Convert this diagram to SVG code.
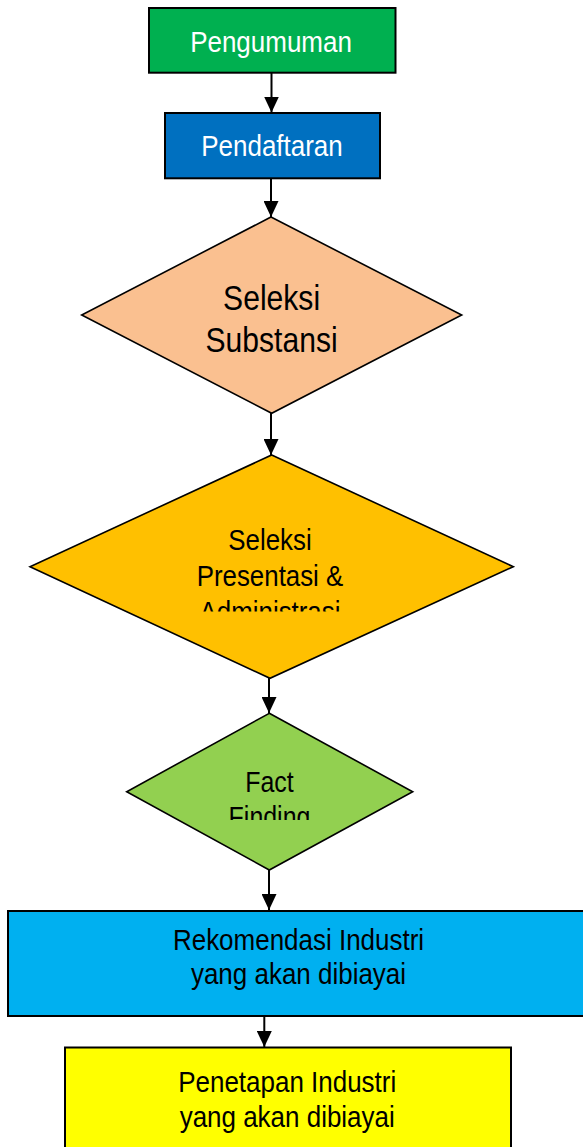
<svg xmlns="http://www.w3.org/2000/svg" width="583" height="1147" viewBox="0 0 583 1147">
<style>
.box{stroke:#000;stroke-width:2}
.dia{stroke:#000;stroke-width:1.6}
.t{font-family:"Liberation Sans",Arial,sans-serif;font-size:30px;text-anchor:middle;fill:#000}
.w{fill:#fff}
.conn{stroke:#000;stroke-width:2;fill:none;marker-end:url(#ah)}
</style>
<defs>
<marker id="ah" markerUnits="userSpaceOnUse" markerWidth="16" markerHeight="15" refX="16" refY="7.5" orient="auto">
<path d="M0,0 L16,7.5 L0,15 z" fill="#000"/>
</marker>
<clipPath id="c2"><rect x="0" y="500" width="583" height="111.5"/></clipPath>
<clipPath id="c3"><rect x="0" y="750" width="583" height="70"/></clipPath>
</defs>
<rect width="583" height="1147" fill="#fff"/>
<g id="connectors">
<line class="conn" x1="271.5" y1="73" x2="271.5" y2="112.5"/>
<line class="conn" x1="271" y1="178" x2="271" y2="217"/>
<line class="conn" x1="271" y1="413" x2="271" y2="455"/>
<line class="conn" x1="269" y1="677" x2="269" y2="713"/>
<line class="conn" x1="269" y1="870" x2="269" y2="910"/>
<line class="conn" x1="264.3" y1="1008" x2="264.3" y2="1047"/>
</g>
<g id="pengumuman">
<rect class="box" x="149" y="8" width="246.5" height="64.7" fill="#00B050"/>
<text class="t w" transform="translate(271 0) scale(0.866 1)" x="0" y="52">Pengumuman</text>
</g>
<g id="pendaftaran">
<rect class="box" x="165" y="113" width="215" height="65.3" fill="#0070C0"/>
<text class="t w" transform="translate(272 0) scale(0.866 1)" x="0" y="156">Pendaftaran</text>
</g>
<g id="seleksi-substansi">
<polygon class="dia" points="271,217 461.7,315 271.7,413.3 81.7,315" fill="#FAC090"/>
<text class="t" style="font-size:35px" transform="translate(271.6 0) scale(0.86 1)" x="0" y="310">Seleksi</text>
<text class="t" style="font-size:35px" transform="translate(271.6 0) scale(0.86 1)" x="0" y="351.7">Substansi</text>
</g>
<g id="seleksi-presentasi">
<polygon class="dia" points="271.7,455 513.3,566.7 270,678.3 30,566.7" fill="#FFC000"/>
<g clip-path="url(#c2)">
<text class="t" transform="translate(270 0) scale(0.862 1)" x="0" y="550">Seleksi</text>
<text class="t" transform="translate(270 0) scale(0.862 1)" x="0" y="586">Presentasi &amp;</text>
<text class="t" transform="translate(270 0) scale(0.862 1)" x="0" y="622">Administrasi</text>
</g>
</g>
<g id="fact-finding">
<polygon class="dia" points="269.3,713.3 412.7,791.7 269.3,870 126.7,791.7" fill="#92D050"/>
<g clip-path="url(#c3)">
<text class="t" style="font-size:29px" transform="translate(269.5 0) scale(0.86 1)" x="0" y="791.7">Fact</text>
<text class="t" style="font-size:29px" transform="translate(269.5 0) scale(0.86 1)" x="0" y="827.5">Finding</text>
</g>
</g>
<g id="rekomendasi">
<rect class="box" x="8" y="911" width="582" height="105" fill="#00B0F0"/>
<text class="t" transform="translate(298.5 0) scale(0.866 1)" x="0" y="950">Rekomendasi Industri</text>
<text class="t" transform="translate(298.5 0) scale(0.866 1)" x="0" y="984.5">yang akan dibiayai</text>
</g>
<g id="penetapan">
<rect class="box" x="65" y="1047.5" width="446" height="120" fill="#FFFF00"/>
<text class="t" transform="translate(287.2 0) scale(0.866 1)" x="0" y="1092">Penetapan Industri</text>
<text class="t" transform="translate(287.2 0) scale(0.866 1)" x="0" y="1127">yang akan dibiayai</text>
</g>
</svg>
